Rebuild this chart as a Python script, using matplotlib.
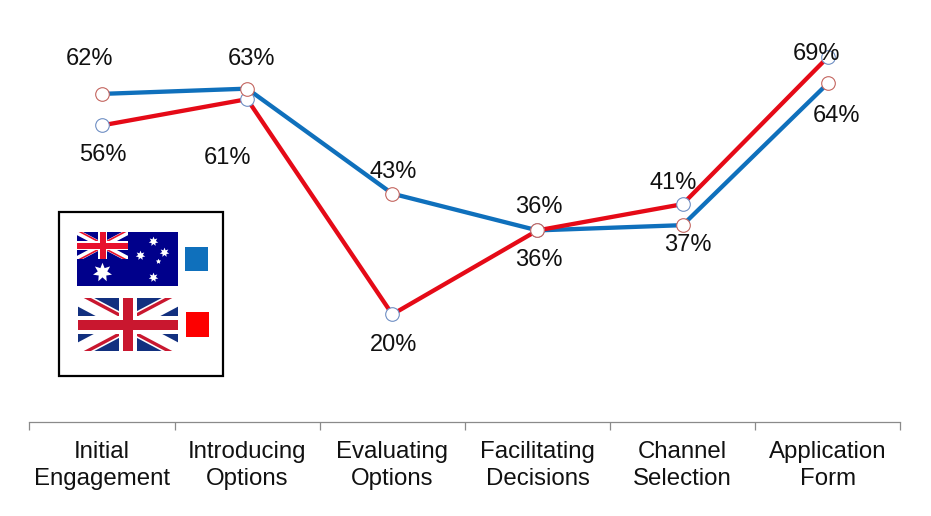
import matplotlib
matplotlib.use("Agg")
import matplotlib.pyplot as plt
from matplotlib.patches import Rectangle

categories = ["Initial\nEngagement", "Introducing\nOptions", "Evaluating\nOptions",
              "Facilitating\nDecisions", "Channel\nSelection", "Application\nForm"]
australia = [62, 63, 43, 36, 37, 64]
uk = [56, 61, 20, 36, 41, 69]
australia_offsets = [(-12, 35), (4, 30), (1, 22), (1, 23), (5, -20), (9, -33)]
uk_offsets = [(1, -30), (-20, -59), (1, -31), (1, -30), (-9, 21), (-11, 3)]

BLUE = "#0f70bc"
RED = "#e50a17"
W, H = 931, 516
plt.rcParams["font.family"] = ["Liberation Sans", "DejaVu Sans"]
fig = plt.figure(figsize=(W / 100, H / 100), dpi=100)

PX = 5.25
bottom = 421.5
top = 30.0
ax = fig.add_axes([29.4 / W, 1 - bottom / H, 871 / W, (bottom - top) / H])
ax.set_xlim(-0.5, 5.5)
ax.set_ylim(-0.4, (bottom - top) / PX - 0.4)
xs = list(range(len(categories)))

for s in ["top", "left", "right"]:
    ax.spines[s].set_visible(False)
ax.spines["bottom"].set_color("#8a8a8a")
ax.spines["bottom"].set_linewidth(0.9)
ax.yaxis.set_visible(False)
ax.set_xticks(xs)
ax.set_xticklabels(categories, fontsize=17.3, color="#111111", linespacing=1.31)
ax.tick_params(axis="x", which="major", length=0, pad=14)
ax.set_xticks([x - 0.5 for x in xs] + [5.5], minor=True)
ax.tick_params(axis="x", which="minor", length=5.5, width=0.9, color="#8a8a8a")

ax.plot(xs, australia, color=BLUE, lw=3.1, solid_joinstyle="round", zorder=2)
ax.plot(xs, uk, color=RED, lw=3.1, solid_joinstyle="round", zorder=2.1)
ax.plot(xs, uk, ls="", marker="o", ms=9.8, mfc="white", mec="#6f8fc4", mew=0.8, zorder=3)
ax.plot(xs, australia, ls="", marker="o", ms=9.8, mfc="white", mec="#c4655f", mew=0.8, zorder=3.1)

def px_offset(dx, dy):
    return (dx * 0.72, dy * 0.72)

for series, offsets in ((australia, australia_offsets), (uk, uk_offsets)):
    for x, v, off in zip(xs, series, offsets):
        ax.annotate(f"{v}%", (x, v), xytext=px_offset(*off), textcoords="offset points",
                    ha="center", va="center", fontsize=17, color="#111111", zorder=5)

# Legend panel with drawn flags (pixel coordinates of the figure)
ov = fig.add_axes([0, 0, 1, 1], facecolor="none")
ov.set_xlim(0, W)
ov.set_ylim(H, 0)
ov.axis("off")
ov.add_patch(Rectangle((59, 212), 164, 164, fc="white", ec="black", lw=1.6))

def union_jack(x0, y0, w, h, navy, red, white_d, red_d, white_c, red_c, z):
    rect = Rectangle((x0, y0), w, h, fc=navy, ec="none", zorder=z)
    ov.add_patch(rect)
    x1, y1 = x0 + w, y0 + h
    cx, cy = x0 + w / 2, y0 + h / 2
    for a, b in (((x0, y0), (x1, y1)), ((x0, y1), (x1, y0))):
        l, = ov.plot([a[0], b[0]], [a[1], b[1]], color="white", lw=white_d, zorder=z + .1, solid_capstyle="butt")
        l.set_clip_path(rect)
    shift = white_d * 0.45
    for (xa, ya, o) in ((x0, y0, -1), (x1, y1, 1), (x0, y1, 1), (x1, y0, -1)):
        l, = ov.plot([xa, cx], [ya + o * shift, cy + o * shift], color=red, lw=red_d,
                     zorder=z + .2, solid_capstyle="butt")
        l.set_clip_path(rect)
    ov.add_patch(Rectangle((cx - white_c / 2, y0), white_c, h, fc="white", ec="none", zorder=z + .3))
    ov.add_patch(Rectangle((x0, cy - white_c / 2), w, white_c, fc="white", ec="none", zorder=z + .3))
    ov.add_patch(Rectangle((cx - red_c / 2, y0), red_c, h, fc=red, ec="none", zorder=z + .4))
    ov.add_patch(Rectangle((x0, cy - red_c / 2), w, red_c, fc=red, ec="none", zorder=z + .4))

# Australia
ov.add_patch(Rectangle((77, 232), 101, 54, fc="#00008b", ec="none", zorder=2))
union_jack(77, 232, 51, 27, "#00008b", "#e8112d", 4.0, 1.2, 9, 6, 3)
for (sx, sy, ms, n) in ((102, 272, 14, 7), (153, 241, 7, 7), (140, 255, 7, 7), (164, 252, 7, 7),
                        (158, 261, 4, 5), (153, 277, 7, 7)):
    ov.plot([sx], [sy], ls="", marker=(n, 1, 0), ms=ms, color="white", mec="none", zorder=4)
ov.add_patch(Rectangle((185, 247), 23, 24, fc=BLUE, ec="none", zorder=2))

# United Kingdom
union_jack(78, 298, 100, 53, "#12307f", "#c9172f", 11, 2.4, 18, 10, 3)
ov.add_patch(Rectangle((186, 312), 23, 25, fc="#fd0000", ec="none", zorder=2))

fig.savefig("out.png", dpi=100)
